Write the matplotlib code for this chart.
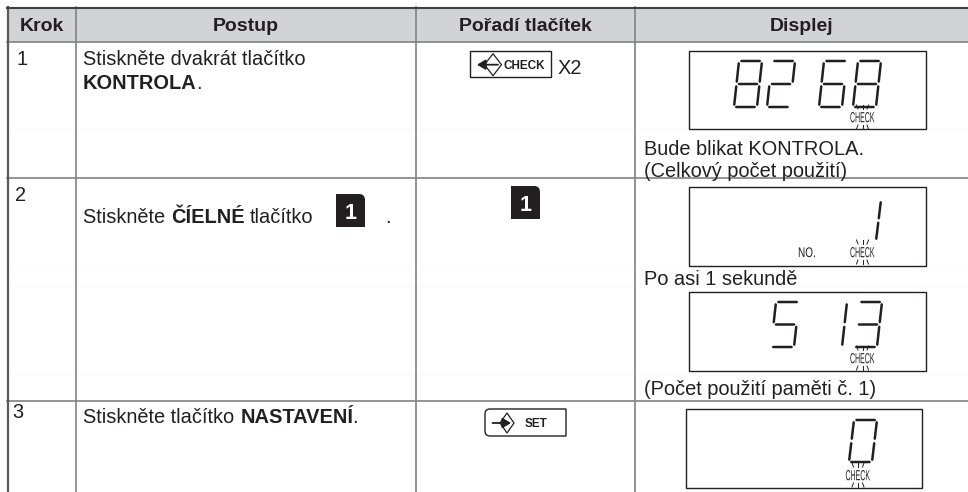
import matplotlib
matplotlib.use('Agg')
import matplotlib.pyplot as plt
import matplotlib.patheffects as pe
from matplotlib.patches import Polygon, Rectangle
from matplotlib.path import Path
from matplotlib.patches import PathPatch
from matplotlib.transforms import Affine2D

plt.rcParams['font.family'] = ['Liberation Sans', 'DejaVu Sans']

INK = '#231f20'
GRID = '#808285'
HEAD = '#d1d3d4'

headers = ['Krok', 'Postup', 'Pořadí tlačítek', 'Displej']
header_x = [42, 246, 525, 802]
col_lines = [75.5, 416, 635]
row_lines = [42, 178, 400.5]
faint_lines = [128, 270, 287, 375]

# (x, baseline, text, bold)
body_text = [
    (17, 65, '1', False),
    (83, 65, 'Stiskněte dvakrát tlačítko', False),
    (83, 89, 'KONTROLA', True),
    (196, 89, '.', False),
    (15, 201, '2', False),
    (83, 223, 'Stiskněte ', False),
    (171.5, 223, 'ČÍELNÉ', True),
    (250, 223, 'tlačítko', False),
    (385, 223, '.', False),
    (12, 418, '3', False),
    (83, 423, 'Stiskněte tlačítko ', False),
    (240.5, 423, 'NASTAVENÍ', True),
    (352, 423, '.', False),
    (558, 74, 'X2', False),
    (644, 155, 'Bude blikat KONTROLA.', False),
    (644, 177, '(Celkový počet použití)', False),
    (644, 285, 'Po asi 1 sekundě', False),
    (644, 395, '(Počet použití paměti č. 1)', False),
]

# display frames: left, top, right, bottom
display_frames = [(689, 51, 926, 129), (689, 187, 926, 266),
                  (689, 292, 926, 371), (686, 409, 922, 488)]
# digit groups: digit, left, top, bottom
display_digits = [
    ('8', 734, 61, 107), ('2', 767, 61, 107), ('6', 819, 61, 107), ('8', 853, 61, 107),
    ('1', 853, 200, 241),
    ('5', 771, 302, 347), ('1', 819, 302, 347), ('3', 854, 302, 347),
    ('0', 849, 420, 462),
]
# CHECK lamp: centre x, centre y
check_lamps = [(862.5, 117), (862.5, 252), (862.5, 358), (858, 475)]

SEGMENTS = {'0': 'abcdef', '1': 'bc', '2': 'abged', '3': 'abgcd', '5': 'afgcd',
            '6': 'afgedc', '8': 'abcdefg'}


class Condensed(pe.AbstractPathEffect):
    # squeezes the glyphs sideways, the manual uses a narrow LCD face
    def __init__(self, sx):
        super().__init__()
        self.sx = sx

    def draw_path(self, renderer, gc, tpath, affine, rgbFace=None):
        renderer.draw_path(gc, tpath, Affine2D().scale(self.sx, 1) + affine, rgbFace)


def draw_segment(ax, p0, p1, t=1.25):
    dx, dy = p1[0] - p0[0], p1[1] - p0[1]
    n = (dx * dx + dy * dy) ** 0.5
    ux, uy = dx / n, dy / n
    nx, ny = -uy * t, ux * t
    pts = [p0,
           (p0[0] + ux * 1.2 + nx, p0[1] + uy * 1.2 + ny),
           (p1[0] - ux * 1.2 + nx, p1[1] - uy * 1.2 + ny),
           p1,
           (p1[0] - ux * 1.2 - nx, p1[1] - uy * 1.2 - ny),
           (p0[0] + ux * 1.2 - nx, p0[1] + uy * 1.2 - ny)]
    ax.add_patch(Polygon(pts, closed=True, fc=INK, ec='none', zorder=4))


def draw_digit(ax, digit, left, top, bottom):
    w, slant = 23, 5

    def pt(u, v):
        return (left + u * w + (1 - v) * slant, top + v * (bottom - top))

    ends = {'a': ((0.04, 0.0), (0.97, 0.0)),
            'b': ((1.0, 0.02), (1.0, 0.48)),
            'c': ((1.0, 0.52), (1.0, 0.98)),
            'd': ((0.03, 1.0), (0.96, 1.0)),
            'e': ((0.0, 0.52), (0.0, 0.98)),
            'f': ((0.0, 0.02), (0.0, 0.48)),
            'g': ((0.04, 0.5), (0.96, 0.5))}
    for s in SEGMENTS[digit]:
        a, b = ends[s]
        draw_segment(ax, pt(*a), pt(*b))


def draw_lamp(ax, cx, cy):
    ax.text(cx - 12.5, cy + 5.2, 'CHECK', fontsize=10.5, color=INK, ha='left', va='baseline',
            path_effects=[Condensed(0.48)], zorder=5)
    for dx0, dx1 in [(-6, -4.5), (0, 0), (6, 4.5)]:
        ax.plot([cx + dx0, cx + dx1], [cy - 12, cy - 8], color=INK, lw=0.7, zorder=4)
        ax.plot([cx + dx1, cx + dx0], [cy + 8, cy + 12], color=INK, lw=0.7, zorder=4)


def draw_diamond(ax, cx, cy, rx, ry):
    pts = [(cx - rx, cy), (cx, cy - ry), (cx + rx, cy), (cx, cy + ry)]
    ax.add_patch(Polygon(pts, closed=True, fc='white', ec=INK, lw=0.9, zorder=4))


def draw_arrow(ax, tail, head, y):
    ax.annotate('', xy=(head, y), xytext=(tail, y), zorder=5,
                arrowprops=dict(arrowstyle='-|>,head_length=0.5,head_width=0.3', color=INK, lw=1.3,
                                mutation_scale=10, shrinkA=0, shrinkB=0))


def draw_key(ax, left, top, right, bottom):
    r = 6
    verts = [(left, top), (right - r, top), (right, top), (right, top + r), (right, bottom),
             (left, bottom), (left, top)]
    codes = [Path.MOVETO, Path.LINETO, Path.CURVE3, Path.CURVE3, Path.LINETO, Path.LINETO,
             Path.CLOSEPOLY]
    ax.add_patch(PathPatch(Path(verts, codes), fc=INK, ec='none', zorder=4))
    ax.text((left + right) / 2, (top + bottom) / 2 + 0.5, '1', color='white', fontsize=15.5,
            fontweight='bold', ha='center', va='center_baseline', zorder=5)


fig = plt.figure(figsize=(9.68, 4.92), dpi=100)
ax = fig.add_axes([0, 0, 1, 1])
ax.set_xlim(0, 968)
ax.set_ylim(492, 0)
ax.axis('off')

ax.add_patch(Rectangle((7, 7), 961, 35, fc=HEAD, ec='none', zorder=1))
for y in faint_lines:
    ax.plot([8, 968], [y, y], color='#fafafa', lw=0.7, zorder=1)
for x in col_lines:
    ax.plot([x, x], [7, 492], color=GRID, lw=1.2, zorder=2)
for y in row_lines:
    ax.plot([7, 968], [y, y], color=GRID, lw=1.2, zorder=2)
ax.plot([7.5, 7.5], [7, 492], color='#58595b', lw=1.6, zorder=3)
ax.plot([7, 968], [7.5, 7.5], color='#414042', lw=1.5, zorder=3)

for x, label in zip(header_x, headers):
    ax.text(x, 31, label, fontsize=14, fontweight='bold', color=INK, ha='center', va='baseline')

for x, y, label, bold in body_text:
    ax.text(x, y, label, fontsize=14.4, color=INK, ha='left', va='baseline',
            fontweight='bold' if bold else 'normal')

for l, t, r, b in display_frames:
    ax.add_patch(Rectangle((l, t), r - l, b - t, fc='white', ec=INK, lw=1.0, zorder=3))
for digit, left, top, bottom in display_digits:
    draw_digit(ax, digit, left, top, bottom)
for cx, cy in check_lamps:
    draw_lamp(ax, cx, cy)
ax.text(798, 257, 'NO.', fontsize=10, color=INK, ha='left', va='baseline',
        path_effects=[Condensed(0.72)], zorder=5)

draw_key(ax, 336, 194, 365, 227)
draw_key(ax, 511, 186, 540, 219)

# CHECK button
ax.add_patch(Rectangle((470, 51), 81, 26, fc='white', ec=INK, lw=1.0, zorder=3))
draw_diamond(ax, 493, 64.7, 8.5, 11)
draw_arrow(ax, 498, 477, 64.7)
ax.text(504, 69, 'CHECK', fontsize=8.5, fontweight='bold', color=INK, ha='left', va='baseline', zorder=5)

# SET button, rounded on the left only
r = 5
verts = [(566, 409), (485 + r, 409), (485, 409), (485, 409 + r), (485, 436 - r), (485, 436),
         (485 + r, 436), (566, 436), (566, 409)]
codes = [Path.MOVETO, Path.LINETO, Path.CURVE3, Path.CURVE3, Path.LINETO, Path.CURVE3,
         Path.CURVE3, Path.LINETO, Path.CLOSEPOLY]
ax.add_patch(PathPatch(Path(verts, codes), fc='white', ec=INK, lw=1.0, zorder=3))
draw_diamond(ax, 507, 423, 7, 10)
draw_arrow(ax, 492.5, 511, 423)
ax.text(525, 427, 'SET', fontsize=8.5, fontweight='bold', color=INK, ha='left', va='baseline', zorder=5)

fig.savefig('out.png', dpi=100)
